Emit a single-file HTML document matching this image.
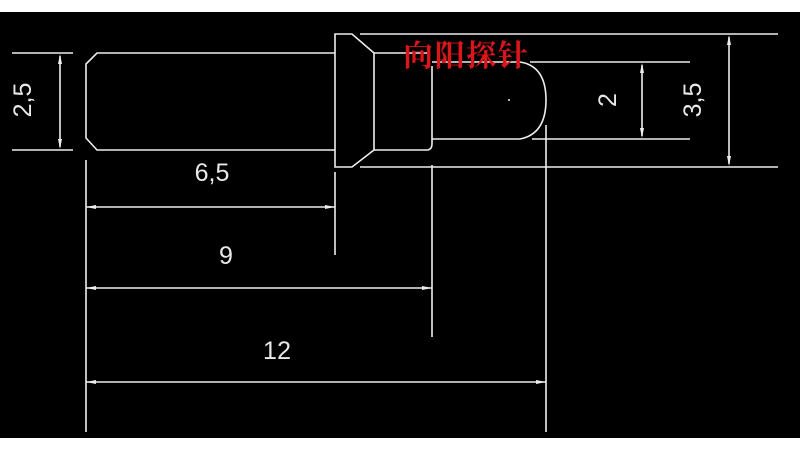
<!DOCTYPE html>
<html><head><meta charset="utf-8"><style>
html,body{margin:0;padding:0;background:#fff;}
svg{display:block}
</style></head><body>
<svg width="800" height="450" viewBox="0 0 800 450" xmlns="http://www.w3.org/2000/svg">
<rect x="0" y="12" width="800" height="426" fill="#000"/>
<g stroke="#eee" stroke-width="1.6" fill="none">
<path d="M335,53 L97,53 L86,64 L86,138 L97,150 L335,150"/>
<line x1="12" y1="53" x2="73" y2="53"/>
<line x1="12" y1="150" x2="73" y2="150"/>
<line x1="60" y1="56" x2="60" y2="147"/>
<path d="M335,34 L352,34 L374,53 L374,150 L352,167 L335,167 Z"/>
<line x1="360" y1="34" x2="778" y2="34"/>
<line x1="360" y1="167" x2="778" y2="167"/>
<path d="M374,53 L430,53"/>
<path d="M374,150 L428,150 Q432,149 432,144 L432,66"/>
<path d="M432,62 L520,62 Q546,66 546,100 Q546,134 520,139 L432,139"/>
<line x1="530" y1="62" x2="690" y2="62"/>
<line x1="532" y1="139" x2="690" y2="139"/>
<line x1="642" y1="65" x2="642" y2="136"/>
<line x1="729" y1="37" x2="729" y2="164"/>
<line x1="86" y1="160" x2="86" y2="432"/>
<line x1="335" y1="172" x2="335" y2="255"/>
<line x1="432" y1="165" x2="432" y2="337"/>
<line x1="546" y1="125" x2="546" y2="432"/>
<line x1="86" y1="207" x2="335" y2="207"/>
<line x1="86" y1="288" x2="432" y2="288"/>
<line x1="86" y1="382" x2="546" y2="382"/>
</g>
<g fill="#eee">
<polygon points="86,207 96,205 96,209"/><polygon points="335,207 325,205 325,209"/>
<polygon points="86,288 96,286 96,290"/><polygon points="432,288 422,286 422,290"/>
<polygon points="86,382 96,380 96,384"/><polygon points="546,382 536,380 536,384"/>
<polygon points="60,54 58,64 62,64"/><polygon points="60,149 58,139 62,139"/>
<polygon points="642,63 640,73 644,73"/><polygon points="642,138 640,128 644,128"/>
<polygon points="729,35 727,45 731,45"/><polygon points="729,166 727,156 731,156"/>
<circle cx="509" cy="100" r="1"/>
</g>
<g fill="#e8e8e8" font-family="Liberation Sans, sans-serif" font-size="25">
<text x="212" y="181" text-anchor="middle">6,5</text>
<text x="226" y="264" text-anchor="middle">9</text>
<text x="277" y="359" text-anchor="middle" textLength="28">12</text>
<text transform="translate(31,100) rotate(-90)" text-anchor="middle">2,5</text>
<text transform="translate(616,100) rotate(-90)" text-anchor="middle">2</text>
<text transform="translate(701,100) rotate(-90)" text-anchor="middle">3,5</text>
</g>
<text x="403" y="66" fill="#d8161b" font-family="Liberation Serif, 'Noto Serif CJK SC', serif" font-size="30" font-weight="bold" textLength="125">向阳探针</text>
</svg>
</body></html>
